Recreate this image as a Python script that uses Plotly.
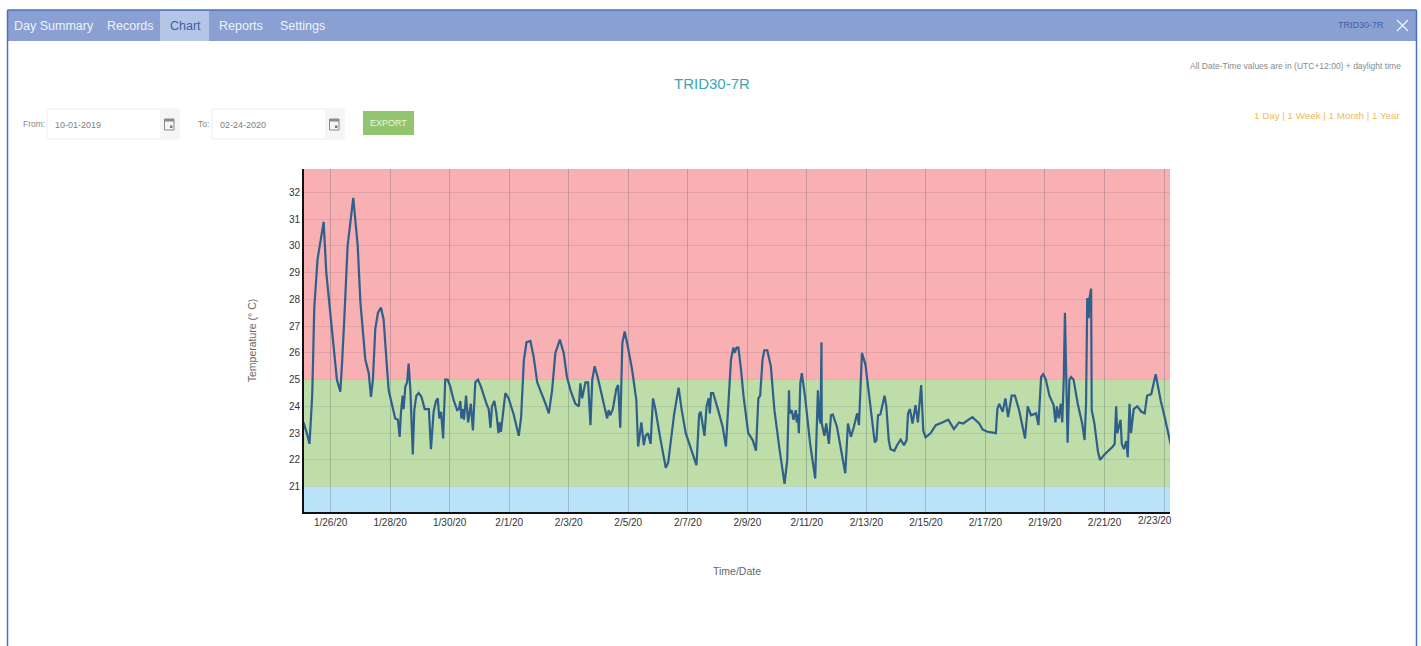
import datetime as dt
import plotly.graph_objects as go

W, H = 1421, 646

# ---- chart data (days after 26 Jan 2020, temperature in deg C) ----
days = [
 -0.91,-0.85,-0.80,-0.71,-0.66,-0.62,-0.59,-0.55,-0.44,-0.35,-0.235,-0.146,-0.03,0.134,0.21,0.325,0.36,0.39,0.46,0.57,0.76,0.91,1.0,1.165,1.28,1.355,1.42,1.445,1.5,1.59,1.69,1.78,1.86,1.89,1.95,
 2.06,2.17,2.26,2.32,2.36,2.42,2.45,2.51,2.57,2.62,2.68,2.76,2.81,2.88,2.96,3.05,3.16,3.3,3.37,3.46,3.54,3.6,3.65,3.71,3.78,3.85,3.93,
 4.02,4.13,4.25,4.31,4.36,4.39,4.45,4.48,4.55,4.62,4.71,4.78,4.86,4.95,5.05,5.25,5.31,5.37,5.42,5.5,5.57,5.64,5.68,5.72,5.87,5.98,
 6.15,6.32,6.4,6.49,6.58,6.71,6.82,6.94,7.05,7.22,7.33,7.44,7.55,7.7,7.83,7.94,8.06,8.22,8.34,8.39,8.45,8.56,8.65,8.73,8.79,8.87,8.98,
 9.15,9.29,9.34,9.39,9.48,9.6,9.66,9.73,9.8,9.88,9.99,10.13,10.27,10.33,10.38,10.44,10.52,10.58,10.66,10.75,10.83,10.91,
 11.06,11.26,11.34,11.54,11.69,11.79,11.93,12.12,12.29,12.38,12.43,12.56,12.63,12.7,12.74,12.78,12.85,
 13.02,13.17,13.28,13.38,13.45,13.53,13.57,13.64,13.7,13.79,13.87,14.03,14.18,14.29,14.37,14.43,14.51,14.57,14.67,14.79,14.91,
 15.08,15.25,15.34,15.4,15.42,15.49,15.55,15.63,15.66,15.7,15.73,15.78,15.83,15.94,16.11,16.28,16.37,16.42,16.46,16.49,16.5,16.59,16.65,16.74,16.81,16.87,
 17.01,17.18,17.29,17.38,17.48,17.57,17.69,17.75,17.85,17.97,18.13,18.28,18.34,18.39,18.47,
 18.61,18.67,18.75,18.81,18.94,19.03,19.15,19.26,19.35,19.4,19.46,19.55,19.65,19.73,19.84,19.91,19.99,
 20.16,20.33,20.55,20.75,20.94,21.11,21.25,21.42,21.56,21.79,21.9,22.07,22.35,22.4,22.46,22.58,22.67,22.76,22.88,22.99,
 23.13,23.33,23.42,23.53,23.7,23.78,23.87,23.94,24.03,24.15,24.29,24.35,24.4,24.46,24.53,24.58,24.63,24.67,24.7,24.76,24.82,24.88,24.96,
 25.1,25.25,25.33,25.38,25.42,25.47,25.49,25.55,25.57,25.66,25.78,25.85,26.0,26.28,26.34,26.39,26.43,26.48,26.54,26.58,26.65,26.73,26.78,26.84,26.89,26.98,
 27.1,27.24,27.35,27.43,27.57,27.72,27.89,28.02,28.24,
]
temps = [
 23.4,23.2,23.0,22.6,23.5,24.4,25.75,27.7,29.5,30.1,30.9,29.0,27.7,25.75,25.0,24.55,25.1,25.75,27.3,30.0,31.8,30.0,27.9,25.75,25.24,24.36,25.0,25.75,26.9,27.5,27.7,27.25,25.75,25.5,24.6,
 24.1,23.55,23.5,22.86,23.74,24.4,23.9,24.74,24.9,25.6,24.6,22.2,23.86,24.4,24.5,24.36,23.9,23.9,22.4,23.8,24.2,24.3,23.55,23.8,22.8,25.0,25.0,
 24.74,24.24,23.86,23.9,24.2,23.55,23.9,23.5,24.4,23.4,24.1,23.1,24.9,25.0,24.74,24.05,23.9,23.2,24.0,24.2,23.74,23.0,23.4,23.05,24.5,24.3,
 23.7,22.9,23.6,25.7,26.4,26.45,25.86,24.9,24.6,24.1,23.74,24.6,26.0,26.5,26.0,25.1,24.6,24.1,24.0,24.86,24.3,24.9,24.9,23.3,25.0,25.5,25.05,
 24.24,23.55,23.86,23.67,23.9,24.67,24.8,23.2,26.36,26.8,26.2,25.36,24.24,22.5,22.9,23.4,22.55,22.9,23.0,22.6,24.3,23.9,
 22.9,21.7,21.9,23.7,24.7,23.9,23.0,22.4,21.8,23.7,23.8,22.9,24.0,24.3,23.74,24.5,24.5,
 23.86,23.24,22.5,24.55,25.74,26.2,26.0,26.2,26.2,25.36,24.4,23.0,22.74,22.34,24.3,24.4,25.74,26.1,26.1,25.5,23.86,
 22.4,21.1,22.0,24.6,23.74,23.86,23.5,23.86,23.4,23.7,23.0,24.86,25.24,24.36,22.6,21.3,24.6,23.55,23.36,26.4,23.36,22.9,23.36,22.6,23.67,23.7,
 23.24,22.2,21.5,23.36,22.86,23.2,23.74,23.3,26.0,25.55,24.0,22.65,22.74,23.67,23.7,
 24.4,24.0,22.74,22.4,22.34,22.55,22.76,22.55,22.74,23.74,23.9,23.36,24.05,23.4,24.8,23.1,22.84,
 23.0,23.3,23.4,23.5,23.15,23.4,23.36,23.5,23.6,23.36,23.14,23.05,23.0,23.9,24.1,23.8,24.3,23.6,24.4,24.4,
 23.86,22.8,24.0,23.67,23.74,23.3,25.1,25.2,25.0,24.4,24.05,23.4,24.0,23.55,24.1,23.4,25.0,27.5,26.0,22.64,25.0,25.1,25.0,
 24.1,23.36,22.74,24.1,28.05,27.3,28.0,28.4,23.86,23.36,22.3,22.0,22.2,22.5,22.6,24.0,23.0,23.24,23.5,22.6,22.4,22.7,22.1,24.1,23.0,23.9,
 24.0,23.8,23.74,24.4,24.46,25.2,24.2,23.6,22.5,
]
tick_days = list(range(0, 29, 2))
tick_labels = ["1/26/20","1/28/20","1/30/20","2/1/20","2/3/20","2/5/20","2/7/20","2/9/20",
               "2/11/20","2/13/20","2/15/20","2/17/20","2/19/20","2/21/20",""]
last_tick_label = "2/23/20"
y_ticks = list(range(21, 33))
band_edges = [20.05, 21, 25, 32.88]
band_colors = ["#BAE3FA", "#BEDDA9", "#F8B0B2"]
x_range_days = [-0.895, 28.2]

ORIGIN = dt.datetime(2020, 1, 26)
def to_date(d):
    return ORIGIN + dt.timedelta(days=d)

# ---- pixel helpers for the surrounding page chrome ----
def fx(p): return p / W
def fy(p): return 1 - p / H

shapes, annos = [], []

def rect(x0, y0, x1, y1, fill, line=None, lw=1, layer="below"):
    shapes.append(dict(type="rect", xref="paper", yref="paper", x0=fx(x0), x1=fx(x1), y0=fy(y0), y1=fy(y1),
                       fillcolor=fill, line=dict(color=line or fill, width=lw if line else 0), layer=layer))

def seg(x0, y0, x1, y1, color, lw=1):
    shapes.append(dict(type="line", xref="paper", yref="paper", x0=fx(x0), x1=fx(x1), y0=fy(y0), y1=fy(y1),
                       line=dict(color=color, width=lw), layer="below"))

def text(x, y, s, size, color, anchor="left", angle=0):
    annos.append(dict(xref="paper", yref="paper", x=fx(x), y=fy(y), text=s, showarrow=False, xanchor=anchor,
                      yanchor="middle", textangle=angle, font=dict(size=size, color=color),
                      borderpad=0, borderwidth=0))

# nav bar and frame
rect(8, 10, 1416, 41, "#8AA0D2")
rect(160, 11, 209, 41, "#B5C5E5")
seg(7.5, 10, 1416.5, 10, "#4A72B8", 1.5)
seg(7.5, 10, 7.5, 646, "#4A72B8", 1.5)
seg(1416.5, 10, 1416.5, 646, "#4A72B8", 1.5)
for x, s, c in [(14, "Day Summary", "#EEF2FA"), (107, "Records", "#EEF2FA"), (170, "Chart", "#3F5FA5"),
                (219, "Reports", "#EEF2FA"), (280, "Settings", "#EEF2FA")]:
    text(x, 25.5, s, 12.5, c)
text(1384, 25, "TRID30-7R", 9, "#3F5FA5", "right")
seg(1397, 20, 1408, 31, "#F2F5FB", 1.2)
seg(1397, 31, 1408, 20, "#F2F5FB", 1.2)

text(712, 83, "TRID30-7R", 15, "#3BA5B5", "center")
text(1401, 66.5, "All Date-Time values are in (UTC+12:00) + daylight time", 8.5, "#8A8A8A", "right")
text(1401, 116, "1 Day | 1 Week | 1 Month | 1 Year", 9.8, "#F0B860", "right")

# date inputs
for bx, lx, label, val in [(47, 23, "From:", "10-01-2019"), (212, 198, "To:", "02-24-2020")]:
    text(lx, 124, label, 8.5, "#888888")
    rect(bx, 109, bx + 132, 139, "#FFFFFF", "#EEEEEE", 1)
    rect(bx + 113, 110, bx + 132, 138.5, "#F5F5F5")
    text(bx + 8, 124.5, val, 9, "#808080")
    ix = bx + 117.5
    rect(ix, 119, ix + 9.5, 130, "#F5F5F5", "#8A8A8A", 1)
    rect(ix, 119, ix + 9.5, 121.5, "#8A8A8A")
    rect(ix + 5.5, 125.5, ix + 8, 128, "#777777")
rect(363, 111, 414, 135, "#93C56F")
text(388.5, 123, "EXPORT", 9, "#EAF5E0", "center")

# threshold bands, in data coordinates
for lo, hi, col in zip(band_edges[:-1], band_edges[1:], band_colors):
    shapes.append(dict(type="rect", xref="x domain", yref="y", x0=0, x1=1, y0=lo, y1=hi,
                       fillcolor=col, line=dict(width=0), layer="below"))

# vertical and horizontal gridlines drawn on top of the bands
text(1172, 520.5, last_tick_label, 10, "#333333", "right")

fig = go.Figure(go.Scatter(
    x=[to_date(d) for d in days], y=temps, mode="lines",
    line=dict(color="#2F5F8B", width=2.2), hoverinfo="skip", showlegend=False))

fig.update_layout(
    width=W, height=H, autosize=False,
    margin=dict(l=0, r=0, t=0, b=0, pad=0),
    paper_bgcolor="#FFFFFF", plot_bgcolor="rgba(0,0,0,0)",
    font=dict(family="Liberation Sans, Arial, sans-serif", size=10, color="#333333"),
    shapes=shapes, annotations=annos, showlegend=False,
    xaxis=dict(
        domain=[fx(304), fx(1170)], range=[to_date(x_range_days[0]), to_date(x_range_days[1])],
        type="date", tickmode="array", tickvals=[to_date(d) for d in tick_days], ticktext=tick_labels,
        tickangle=0, ticks="", showgrid=True, gridcolor="rgba(70,80,90,0.27)", gridwidth=1,
        zeroline=False, showline=True, linecolor="#111111", linewidth=2, anchor="y", automargin=False,
        tickfont=dict(size=10, color="#333333"),
        title=dict(text="Time/Date", standoff=41, font=dict(size=10.5, color="#666666")),
    ),
    yaxis=dict(
        domain=[fy(512), fy(169)], range=[band_edges[0], band_edges[-1]],
        tickmode="array", tickvals=y_ticks, ticktext=[str(v) for v in y_ticks],
        ticks="", showgrid=True, gridcolor="rgba(70,80,90,0.13)", gridwidth=1,
        zeroline=False, showline=True, linecolor="#111111", linewidth=2, anchor="x", automargin=False,
        tickfont=dict(size=10, color="#333333"),
        title=dict(text="Temperature (° C)", standoff=30, font=dict(size=10.5, color="#666666")),
    ),
)

fig.write_html("out.html", config=dict(displayModeBar=False, responsive=False),
               post_script="document.body.style.margin='0';document.body.style.overflow='hidden';")
